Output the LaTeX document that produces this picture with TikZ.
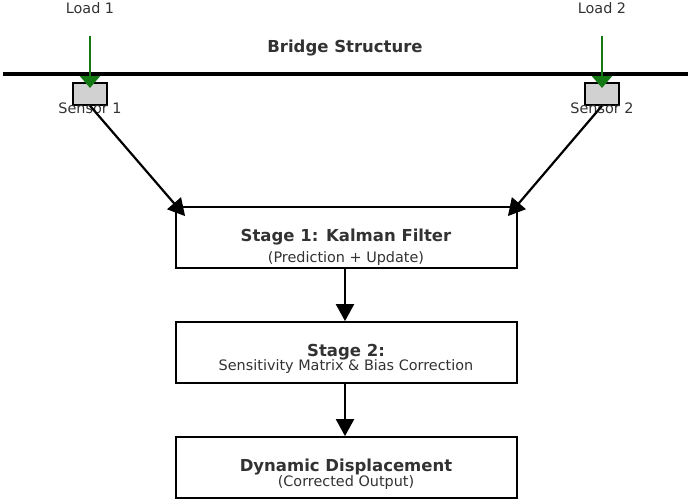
\documentclass[tikz,border=0pt]{standalone}
\usepackage{fontspec}
\setmainfont{DejaVu Sans}
\usetikzlibrary{arrows.meta}
\definecolor{loadgreen}{RGB}{20,120,20}
\definecolor{txtgray}{RGB}{50,50,50}
\tikzset{
  stage/.style={draw=black, line width=1.8pt, minimum width=341pt, minimum height=61pt, inner sep=0pt},
  flow/.style={line width=2.2pt, -{Triangle[length=17pt,width=18pt]}},
  load/.style={loadgreen, line width=2.5pt, -{Triangle[length=12pt,width=20pt]}},
  sensor/.style={draw=black, fill=black!18, line width=1.5pt, minimum width=34pt, minimum height=22pt, inner sep=0pt},
  big/.style={font=\fontsize{16.5}{18}\selectfont\bfseries, text=txtgray},
  small/.style={font=\fontsize{14.4}{16}\selectfont, text=txtgray},
}
\begin{document}
\begin{tikzpicture}[x=1pt,y=-1pt]
      \useasboundingbox (0,0) rectangle (690,503);
      %
      \coordinate (B1) at (3,74);
      \coordinate (B2) at (688,74);
      \draw[line width=3.5pt] (B1) -- (B2);
      \node[big] (T1) at (345,48) {Bridge Structure};
      %
      \node[small] (L1) at (90,8) {Load 1};
      \node[small] (L2) at (602,8) {Load 2};
      \coordinate (L1a) at (90,36);
      \coordinate (L2a) at (602,36);
      \coordinate (L1b) at (90,88);
      \coordinate (L2b) at (602,88);
      \node[sensor] (S1) at (90,94) {};
      \node[sensor] (S2) at (602,94) {};
      \draw[load] (L1a) -- (L1b);
      \draw[load] (L2a) -- (L2b);
      \node[small] (S1t) at (90,108) {Sensor 1};
      \node[small] (S2t) at (602,108) {Sensor 2};
      %
      \node[stage] (K) at (346.5,237.5) {};
      \node[big] at (346,237) {Stage 1: Kalman Filter};
      \node[small] at (346,259) {(Prediction + Update)};
      \node[stage] (M) at (346.5,352.5) {};
      \node[big] at (346,352) {Stage 2:};
      \node[small] at (346,367) {Sensitivity Matrix \& Bias Correction};
      \node[stage] (D) at (346.5,467.5) {};
      \node[big] at (346,467) {Dynamic Displacement};
      \node[small] at (346,483) {(Corrected Output)};
      %
      \draw[flow] (S1.south) -- ([shift={(10,10)}]K.north west);
      \draw[flow] (S2.south) -- ([shift={(-10,10)}]K.north east);
      \draw[flow] (K.south -| 345,0) -- (M.north -| 345,0);
      \draw[flow] (M.south -| 345,0) -- (D.north -| 345,0);
\end{tikzpicture}
\end{document}
